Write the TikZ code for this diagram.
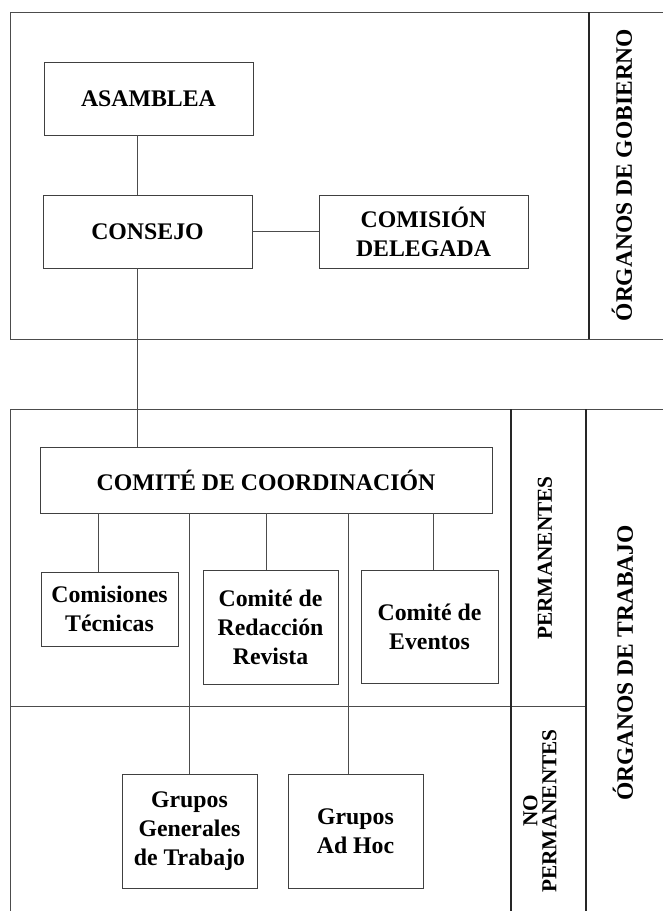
\documentclass[tikz,border=0pt]{standalone}
\usepackage{fontspec}
\setmainfont{Liberation Serif}
\begin{document}
\begin{tikzpicture}[x=1pt,y=-1pt,
  frameline/.style={draw=black!70, line width=0.8pt},
  divider/.style={draw=black!85, line width=1.6pt},
  orgbox/.style={draw=black!75, line width=0.8pt, inner sep=0pt, align=center,
    font=\fontsize{23.8}{29}\selectfont\bfseries},
  link/.style={draw=black!70, line width=0.8pt},
  sidelabel/.style={rotate=90, inner sep=0pt, align=center}]
\useasboundingbox (0,0) rectangle (663,911);
% frames
\draw[frameline] (663,12) -- (10,12) -- (10,339) -- (663,339);
\draw[divider] (589,12) -- (589,339);
\draw[frameline] (663,409) -- (10,409) -- (10,911);
\draw[frameline] (10,706) -- (586,706);
\draw[divider] (511,409) -- (511,911);
\draw[divider] (586,409) -- (586,911);
% boxes
\node[orgbox, minimum width=209pt, minimum height=73pt] (asamblea) at (148.5,98.5) {ASAMBLEA};
\node[orgbox, minimum width=209pt, minimum height=73pt] (consejo) at (147.5,231.5) {CONSEJO};
\node[orgbox, minimum width=209pt, minimum height=73pt] (delegada) at (423.5,231.5) {COMISIÓN\\DELEGADA};
\node[orgbox, minimum width=452pt, minimum height=66pt] (comite) at (266,480) {COMITÉ DE COORDINACIÓN};
\node[orgbox, minimum width=137pt, minimum height=74pt] (tecnicas) at (109.5,609) {Comisiones\\Técnicas};
\node[orgbox, minimum width=135pt, minimum height=114pt] (revista) at (270.5,627) {Comité de\\Redacción\\Revista};
\node[orgbox, minimum width=137pt, minimum height=113pt] (eventos) at (429.5,626.5) {Comité de\\Eventos};
\node[orgbox, minimum width=135pt, minimum height=114pt] (generales) at (189.5,831) {Grupos\\Generales\\de Trabajo};
\node[orgbox, minimum width=135pt, minimum height=114pt] (adhoc) at (355.5,831) {Grupos\\Ad Hoc};
% connector columns
\coordinate (kx) at (137,0);
\coordinate (k1) at (98,0);
\coordinate (k2) at (189,0);
\coordinate (k3) at (266,0);
\coordinate (k4) at (348,0);
\coordinate (k5) at (433,0);
\draw[link] (kx |- asamblea.south) -- (kx |- consejo.north);
\draw[link] (kx |- consejo.south) -- (kx |- comite.north);
\draw[link] (consejo.east) -- (delegada.west);
\draw[link] (k1 |- comite.south) -- (k1 |- tecnicas.north);
\draw[link] (k2 |- comite.south) -- (k2 |- generales.north);
\draw[link] (k3 |- comite.south) -- (k3 |- revista.north);
\draw[link] (k4 |- comite.south) -- (k4 |- adhoc.north);
\draw[link] (k5 |- comite.south) -- (k5 |- eventos.north);
% side labels
\node[sidelabel, font=\fontsize{23.5}{28}\selectfont\bfseries] (gobierno) at (622,175) {ÓRGANOS DE GOBIERNO};
\node[sidelabel, font=\fontsize{23.5}{28}\selectfont\bfseries] (trabajo) at (623,663) {ÓRGANOS DE TRABAJO};
\node[sidelabel, font=\fontsize{21.3}{19}\selectfont\bfseries] (perm) at (545,558) {PERMANENTES};
\node[sidelabel, font=\fontsize{21.3}{19}\selectfont\bfseries] (noperm) at (540,811) {NO\\PERMANENTES};
\end{tikzpicture}
\end{document}
